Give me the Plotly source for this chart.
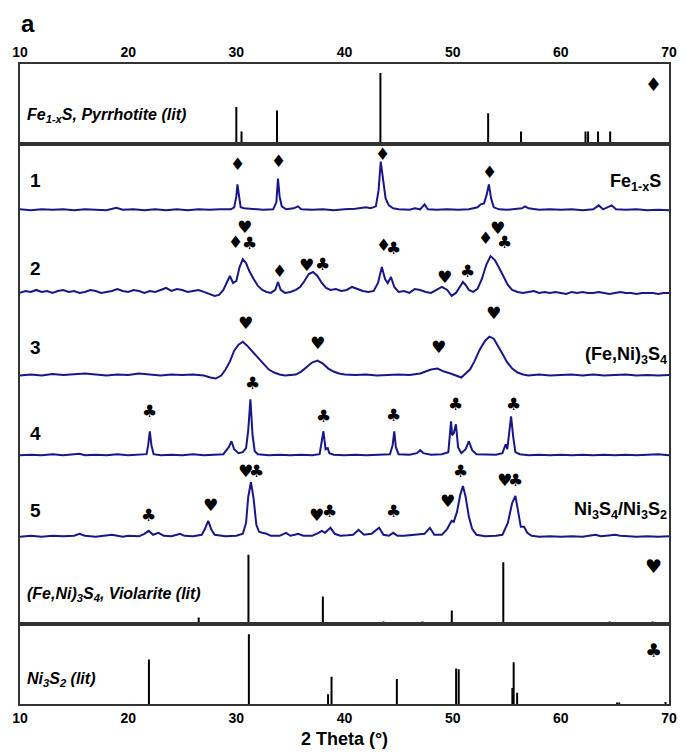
import plotly.graph_objects as go
from plotly.subplots import make_subplots

# ---------------- data ----------------
theta_ticks = [10, 20, 30, 40, 50, 60, 70]

# literature stick patterns (2theta, relative intensity %)
pyrrhotite_x = [30.0, 30.48, 33.76, 43.32, 53.28, 56.32, 62.28, 62.52, 63.44, 64.56]
pyrrhotite_i = [52, 17, 47, 100, 43, 17, 17, 17, 17, 17]

violarite_x = [26.52, 31.12, 38.0, 43.6, 47.2, 49.92, 54.68, 64.52, 68.48]
violarite_i = [10, 100, 40, 4, 4, 20, 89, 4, 4]

ni3s2_x = [21.92, 31.16, 38.48, 38.8, 44.84, 50.32, 50.56, 55.52, 55.64, 55.96, 65.2, 65.4, 69.68]
ni3s2_i = [64, 100, 14, 39, 36, 51, 50, 23, 60, 16, 2, 2, 3]

# measured patterns (2theta, intensity a.u.)
p1 = [(10, 1), (11, 0), (12, 1), (13, 0.5), (14, 1), (15, 0), (16, 1), (17, 0.5), (18, 0), (18.9, 2.5),
      (19.5, 0.5), (20.5, 1), (21.5, 0), (22.5, 1), (23.5, 0), (24.5, 1), (25.5, 0), (26.5, 1), (27.5, 0.5),
      (28.5, 1), (29.5, 1), (29.8, 3), (30.0, 14), (30.1, 26), (30.25, 12), (30.4, 3), (30.7, 2), (31.5, 1),
      (32.5, 0.5), (33.4, 1), (33.7, 8), (33.85, 32), (34.0, 14), (34.2, 4), (34.6, 1), (35.3, 2), (35.7, 4),
      (36.0, 1), (37, 0.5), (38, 1), (39, 0), (40, 1), (41, 1.5), (42.0, 3), (42.4, 2), (42.9, 4), (43.15, 20),
      (43.35, 49), (43.55, 30), (43.8, 12), (44.1, 5), (44.5, 2), (45, 1), (46, 0.5), (46.5, 2), (47.0, 1),
      (47.4, 6), (47.7, 1), (48.5, 0.5), (49.5, 1), (50.5, 0.5), (51.5, 1), (52.3, 3), (52.6, 6), (52.9, 7),
      (53.15, 16), (53.35, 26), (53.55, 12), (53.8, 3), (54.3, 1), (55.0, 0.5), (55.7, 1), (56.4, 2), (56.7, 4),
      (57.0, 2), (58, 0.5), (59, 1), (60, 0.5), (61, 1), (62, 0), (63.0, 1), (63.5, 5), (63.9, 1), (64.7, 5),
      (65.1, 1), (66, 0.5), (67, 1), (68, 0), (69, 0.5), (70, 0)]

p2 = [(10, 0), (10.5, 2), (11, 1), (11.5, 3), (12, 1), (12.5, 2), (13, 0), (13.5, 2), (14, 3), (14.5, 1),
      (15, 2), (15.5, 0), (16, 1), (16.5, 3), (17, 2), (17.5, 0), (18, 1), (18.5, 2), (19, 4), (19.5, 2),
      (20, 1), (20.5, 3), (21, 2), (21.5, 0), (22, 2), (22.5, 1), (23, 3), (23.5, 5), (24, 2), (24.5, 4),
      (25, 3), (25.5, 1), (26, 2), (26.5, 3), (27, 1), (27.5, -1), (28, -3), (28.4, -2), (28.8, 3), (29.1, 10),
      (29.4, 17), (29.7, 10), (30.0, 12), (30.3, 26), (30.6, 34), (30.9, 30), (31.2, 22), (31.6, 14), (32.0, 7),
      (32.4, 3), (32.8, 1), (33.2, 0), (33.6, 3), (33.85, 11), (34.1, 3), (34.5, 0), (35.0, 1), (35.5, 3),
      (35.9, 6), (36.3, 12), (36.7, 19), (37.1, 21), (37.5, 17), (37.9, 10), (38.3, 5), (38.7, 3), (39.2, 4),
      (39.7, 2), (40.2, 3), (40.7, 6), (41.2, 4), (41.7, 2), (42.2, 1), (42.7, 2), (43.1, 10), (43.45, 26),
      (43.75, 14), (44.0, 10), (44.3, 16), (44.6, 6), (45.0, 1), (45.5, 2), (46.0, 0), (46.5, 4), (47.0, 3),
      (47.5, 1), (48.0, 0), (48.5, 3), (49.0, 6), (49.5, 3), (49.9, -3), (50.3, 0), (50.7, 6), (50.95, 11),
      (51.2, 8), (51.5, 3), (51.9, 1), (52.3, 4), (52.7, 14), (53.1, 28), (53.5, 37), (53.9, 33), (54.3, 25),
      (54.7, 16), (55.1, 8), (55.5, 3), (56.0, 1), (56.5, 0), (57, 1), (57.5, 2), (58, 0), (58.5, 1), (59, 0),
      (59.5, 1), (60, 0), (60.5, -1), (61, 1), (61.5, 0), (62, 1), (62.5, 0), (63, 0), (63.5, 1), (64, 0),
      (64.5, -1), (65, 0), (65.5, 1), (66, 0), (66.5, 0), (67, -1), (67.5, 0), (68, 0), (68.5, 0), (69, -1),
      (69.5, 0), (70, 0)]

p3 = [(10, 0), (11, 1), (12, 0), (13, 1.5), (14, 0.5), (15, 1), (16, 2), (17, 1), (18, 0), (19, 1), (20, 0.5),
      (21, 2), (22, 1), (23, 0), (24, 1), (25, 0.5), (26, 1), (27, 0), (27.6, -2), (28.1, -3), (28.6, 0),
      (29.0, 6), (29.4, 14), (29.8, 25), (30.2, 31), (30.6, 34), (31.0, 30), (31.4, 25), (31.8, 20), (32.2, 15),
      (32.6, 10), (33.0, 6), (33.5, 3), (34.0, 1), (34.5, 0), (35.0, 0.5), (35.5, 1), (36.0, 4), (36.5, 9),
      (37.0, 13), (37.5, 15), (38.0, 12), (38.5, 7), (39.0, 4), (39.5, 2), (40, 1), (41, 0.5), (42, 1), (43, 0),
      (44, 0.5), (45, 1), (46, 0.5), (46.5, 1), (47.0, 2), (47.5, 4), (48.0, 6), (48.6, 7), (49.2, 4), (49.8, 2),
      (50.3, 0), (50.8, -2), (51.2, 2), (51.6, 6), (52.0, 14), (52.5, 26), (53.0, 35), (53.4, 39), (53.8, 37),
      (54.2, 30), (54.6, 22), (55.0, 14), (55.5, 7), (56.0, 3), (56.5, 1), (57, 0), (58, 1), (59, 0), (60, 0.5),
      (61, 1), (62, 0), (63, 1), (64, 0), (65, 0.5), (66, 1), (67, 0), (68, 0.5), (69, 0), (70, 0.5)]

p4 = [(10, 0), (11, 0.5), (12, 0), (13, 1), (14, 0), (15, 0.5), (15.5, 1.5), (16, 0), (17, 0.5), (18, 0),
      (19, 1), (20, 0), (21, 0.5), (21.7, 1), (21.85, 10), (22.0, 24), (22.15, 10), (22.35, 1), (23, 0),
      (24, 0.5), (25, 0), (26, 1), (27, 0), (28, 0.5), (28.8, 1), (29.3, 8), (29.55, 14), (29.8, 6), (30.2, 2),
      (30.6, 3), (30.9, 7), (31.1, 25), (31.3, 56), (31.5, 20), (31.7, 4), (32.0, 1), (33, 0), (34, 0.5), (35, 0),
      (36, 0.5), (37, 0), (37.7, 1), (37.9, 12), (38.05, 24), (38.25, 6), (38.45, 7), (38.6, 2), (39, 0.5),
      (40, 0), (41, 0.5), (42, 0), (43, 0.5), (44.2, 1), (44.45, 10), (44.6, 24), (44.75, 8), (45.0, 1),
      (46, 0.5), (46.7, 2), (47.0, 5), (47.3, 2), (48, 0.5), (49, 1), (49.6, 3), (49.85, 34), (49.95, 20),
      (50.1, 22), (50.3, 31), (50.5, 8), (50.8, 2), (51.2, 6), (51.5, 14), (51.8, 5), (52.2, 1), (53, 0.5),
      (54, 0.5), (54.6, 2), (54.9, 11), (55.05, 6), (55.2, 20), (55.4, 39), (55.6, 18), (55.8, 3), (56.2, 1),
      (57, 0), (58, 0.5), (59, 0), (60, 0.5), (61, 0), (62, 0.5), (63, 0), (64, 0.5), (65, 0), (66, 0.5),
      (67, 0), (68, 0.5), (69, 1), (70, 0)]

p5 = [(10, 0), (11, 1), (12, 0), (13, 1), (14, 0.5), (15, 1), (15.5, 3), (16, 1), (17, 0), (18, 1), (18.5, 2),
      (19, 1), (19.5, 0), (20, 1), (21, 0.5), (21.5, 3), (21.9, 6), (22.3, 2), (22.8, 4), (23.3, 1), (24, 0.5),
      (24.5, 2), (24.8, 3), (25.2, 1), (26, 0.5), (26.8, 2), (27.1, 8), (27.4, 16), (27.7, 7), (28.0, 2),
      (29, 0.5), (30, 1), (30.6, 3), (30.9, 14), (31.1, 40), (31.35, 55), (31.6, 38), (31.85, 12), (32.1, 5),
      (32.4, 4), (32.8, 3), (33.2, 1), (33.7, 1), (34.0, 1), (34.6, 4), (35.0, 1), (35.4, 2), (35.7, 3),
      (36.2, 1), (37.0, 1), (37.6, 4), (37.9, 6), (38.2, 4), (38.7, 9), (39.1, 3), (39.6, 1), (40.3, 1.5),
      (40.8, 2), (41.3, 7), (41.8, 2), (42.5, 3), (43.2, 9), (43.6, 2), (44.1, 1), (44.5, 4), (44.9, 1),
      (45.5, 1), (46.5, 2), (47.4, 3), (47.9, 9), (48.3, 2), (49.0, 2), (49.5, 8), (49.9, 16), (50.1, 15),
      (50.4, 25), (50.7, 42), (50.95, 51), (51.2, 40), (51.5, 20), (51.8, 8), (52.2, 2), (53, 0.5), (54, 1),
      (54.6, 2), (55.1, 14), (55.5, 34), (55.8, 41), (56.05, 25), (56.3, 10), (56.6, 10), (56.9, 4), (57.3, 1),
      (58, 0), (59, 0.5), (60, 0), (61, 0.5), (62, 0), (63.2, 2), (63.7, 0.5), (64.2, 1), (65, 2), (65.5, 1),
      (66, 0.5), (67, 0), (68, 0.5), (69, 0), (70, 0.5)]

patterns = [p1, p2, p3, p4, p5]
pattern_names = ["1", "2", "3", "4", "5"]

# phase markers: (2theta, height a.u. above pattern baseline, symbol)
D, H, C = "\u2666", "\u2665", "\u2663"
markers = [
    [(30.1, 47, D), (33.9, 50, D), (43.5, 57, D), (53.4, 38, D)],
    [(29.88, 51, D), (30.76, 66, H), (31.2, 50, C), (33.99, 22, D), (36.5, 28, H), (37.95, 29, C),
     (43.6, 48, D), (44.5, 45, C), (49.2, 16, H), (51.4, 22, C), (53.08, 55, D), (54.1, 65, H), (54.75, 51, C)],
    [(30.85, 53, H), (37.5, 33, H), (48.66, 29, H), (53.77, 63, H)],
    [(21.96, 44, C), (31.46, 73, C), (38.1, 39, C), (44.55, 40, C), (50.27, 51, C), (55.66, 51, C)],
    [(21.9, 22, C), (27.6, 32, H), (30.85, 66, H), (31.9, 66, C), (37.4, 22, H), (38.6, 26, C), (44.5, 26, C),
     (49.5, 36, H), (50.7, 66, C), (54.75, 57, H), (55.85, 57, C)],
]

# ---------------- layout constants ----------------
offsets = [416, 333, 250, 170, 88]       # baseline of each pattern in middle panel units
MID_TOP = 483
VIOL_SCALE = 0.70
NAVY = "#17178a"
FRAME = "#333333"

fig = make_subplots(rows=3, cols=1, shared_xaxes=False, vertical_spacing=0,
                    row_heights=[80 / 643, 483 / 643, 80 / 643])


def sticks(xs, hs, scale=1.0):
    X, Y = [], []
    for x, h in zip(xs, hs):
        X += [x, x, None]
        Y += [0, h * scale, None]
    return X, Y


X, Y = sticks(pyrrhotite_x, pyrrhotite_i)
fig.add_trace(go.Scatter(x=X, y=Y, mode="lines", line=dict(color="black", width=2),
                         hoverinfo="skip", showlegend=False), row=1, col=1)

for pat, off in zip(patterns, offsets):
    fig.add_trace(go.Scatter(x=[p[0] for p in pat], y=[p[1] + off for p in pat], mode="lines",
                             line=dict(color=NAVY, width=2), showlegend=False), row=2, col=1)

X, Y = sticks(violarite_x, violarite_i, VIOL_SCALE)
fig.add_trace(go.Scatter(x=X, y=Y, mode="lines", line=dict(color="black", width=2),
                         hoverinfo="skip", showlegend=False), row=2, col=1)

X, Y = sticks(ni3s2_x, ni3s2_i)
fig.add_trace(go.Scatter(x=X, y=Y, mode="lines", line=dict(color="black", width=2),
                         hoverinfo="skip", showlegend=False), row=3, col=1)

sym_font = dict(family="DejaVu Sans", size=17, color="black")
big_sym_font = dict(family="DejaVu Sans", size=19, color="black")
ann = []
for mk, off in zip(markers, offsets):
    for x, h, s in mk:
        ann.append(dict(x=x, y=off + h, xref="x2", yref="y2", text=s, showarrow=False, font=sym_font))

lab_font = dict(family="Liberation Sans", size=19, color="black", weight="bold")
label_h = [30, 25, 28, 22, 26]
for name, off, h in zip(pattern_names, offsets, label_h):
    ann.append(dict(x=11.4, y=off + h, xref="x2", yref="y2", text=name, showarrow=False, font=lab_font))

right_font = dict(family="Liberation Sans", size=18, color="black", weight="bold")
ann.append(dict(x=69.4, y=offsets[0] + 28, xref="x2", yref="y2", text="Fe<sub>1-x</sub>S",
                showarrow=False, xanchor="right", font=right_font))
ann.append(dict(x=70.0, y=offsets[2] + 20, xref="x2", yref="y2", text="(Fe,Ni)<sub>3</sub>S<sub>4</sub>",
                showarrow=False, xanchor="right", font=right_font))
ann.append(dict(x=70.0, y=offsets[4] + 26, xref="x2", yref="y2",
                text="Ni<sub>3</sub>S<sub>4</sub>/Ni<sub>3</sub>S<sub>2</sub>",
                showarrow=False, xanchor="right", font=right_font))

lit_font = dict(family="Liberation Sans", size=16, color="black", weight="bold", style="italic")
ann.append(dict(x=10.5, y=40, xref="x", yref="y", text="Fe<sub>1-x</sub>S, Pyrrhotite (lit)",
                showarrow=False, xanchor="left", font=lit_font))
ann.append(dict(x=10.5, y=30, xref="x2", yref="y2",
                text="(Fe,Ni)<sub>3</sub>S<sub>4</sub>, Violarite (lit)",
                showarrow=False, xanchor="left", font=lit_font))
ann.append(dict(x=10.5, y=35, xref="x3", yref="y3", text="Ni<sub>3</sub>S<sub>2</sub> (lit)",
                showarrow=False, xanchor="left", font=lit_font))

ann.append(dict(x=68.6, y=84, xref="x", yref="y", text=D, showarrow=False, font=big_sym_font))
ann.append(dict(x=68.6, y=59, xref="x2", yref="y2", text=H, showarrow=False, font=big_sym_font))
ann.append(dict(x=68.6, y=78, xref="x3", yref="y3", text=C, showarrow=False, font=big_sym_font))

ann.append(dict(x=-0.002, y=1 + (64 - 23) / 643, xref="paper", yref="paper", text="a", showarrow=False,
                xanchor="left", yanchor="middle",
                font=dict(family="Liberation Sans", size=24, weight="bold", color="black")))
fig.update_layout(annotations=ann)

axis_common = dict(range=[10, 70], tickvals=theta_ticks, showline=True, linecolor=FRAME, linewidth=1.5,
                   mirror=True, showgrid=False, zeroline=False, ticks="",
                   tickfont=dict(family="Liberation Sans", size=14, color="black", weight="bold"))
fig.update_xaxes(**axis_common)
fig.update_xaxes(side="top", showticklabels=True, row=1, col=1)
fig.update_xaxes(showticklabels=False, row=2, col=1)
fig.update_xaxes(showticklabels=True, row=3, col=1,
                 title=dict(text="2 Theta (\u00b0)", standoff=8,
                            font=dict(family="Liberation Sans", size=18, color="black", weight="bold")))

yax = dict(showline=True, linecolor=FRAME, linewidth=1.5, mirror=True, showgrid=False, zeroline=False,
           showticklabels=False, ticks="")
fig.update_yaxes(**yax)
fig.update_yaxes(range=[0, 112.7], row=1, col=1)
fig.update_yaxes(range=[0, MID_TOP], row=2, col=1)
fig.update_yaxes(range=[0, 114.3], row=3, col=1)

fig.update_layout(width=686, height=755, margin=dict(l=20, r=9, t=64, b=48),
                  paper_bgcolor="white", plot_bgcolor="white", showlegend=False)

fig.write_html("out.html")
